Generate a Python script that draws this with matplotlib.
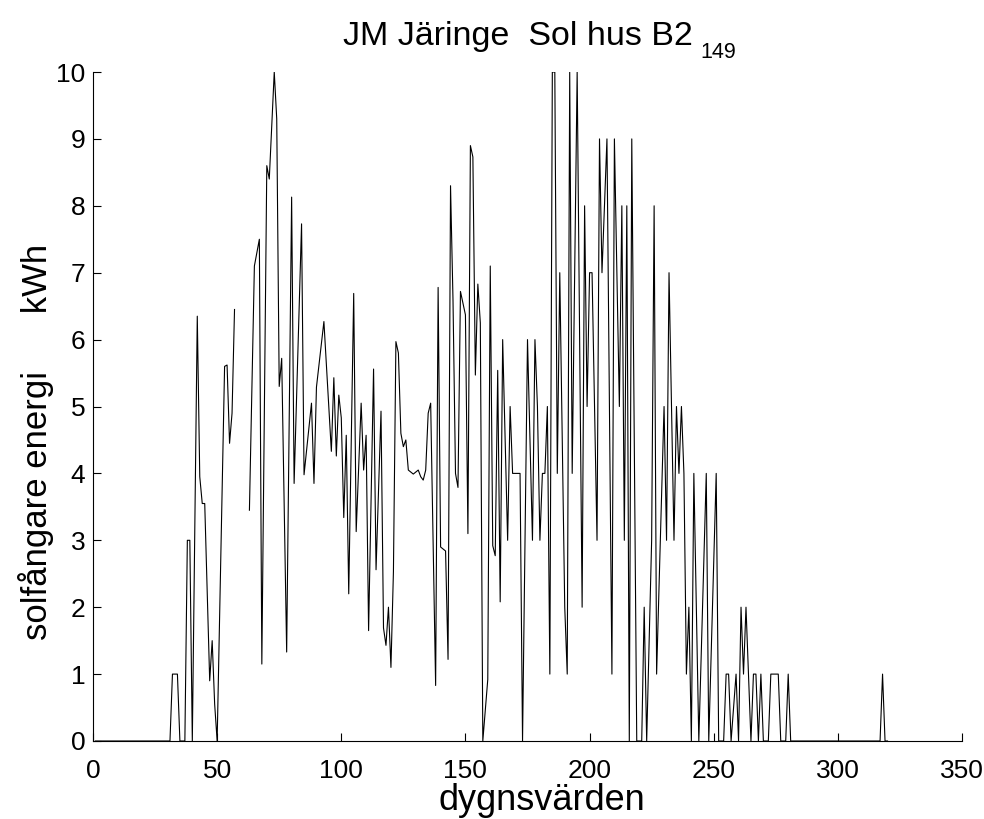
import numpy as np
import matplotlib
matplotlib.use("Agg")
import matplotlib.pyplot as plt

plt.rcParams['font.family'] = ['Liberation Sans', 'DejaVu Sans']

# day number (dygn) and solar collector energy (kWh); NaN = missing day
days = [1, 30, 31, 32, 33, 34, 35, 37, 38, 39, 40, 42, 43, 44, 45, 47, 48, 49, 50,
        53, 54, 55, 56, 57, 58,
        63, 65, 67, 68, 70, 71, 73, 74, 75, 76, 78, 80, 81, 84, 85, 88, 89, 90, 93,
        96, 97, 98, 99, 100, 101, 102, 103, 105, 106, 108, 109, 110, 111, 113, 114,
        116, 117, 118, 119, 120, 121, 122, 123, 124, 125, 126, 127, 129, 131, 132,
        133, 134, 135, 136, 138, 139, 140, 142, 143, 144, 145, 146, 147, 148, 150,
        151, 152, 153, 154, 155, 156, 157, 159, 160, 161, 162, 163, 164, 165, 167,
        168, 169, 172, 173, 174, 175, 177, 178, 179, 180, 181, 182, 183, 184, 185,
        186, 187, 188, 190, 191, 192, 193, 195, 197, 198, 199, 200, 201, 203, 204,
        205, 207, 209, 210, 212, 213, 214, 215, 216, 217, 219, 221, 222, 223, 225,
        226, 227, 230, 231, 232, 234, 235, 236, 237, 238, 239, 240, 241, 242, 244,
        247, 248, 251, 252, 254, 255, 256, 257, 259, 260, 261, 262, 263, 265, 266,
        267, 268, 269, 270, 272, 273, 274, 275, 276, 277, 279, 280, 281, 317, 318,
        319, 320]
kwh = [0, 0, 0, 1, 1, 1, 0, 0, 3, 3, 0, 6.35, 3.95, 3.55, 3.55, 0.9, 1.5, 0.55, 0,
       5.6, 5.62, 4.45, 4.9, 6.45, np.nan,
       3.45, 7.1, 7.5, 1.15, 8.6, 8.4, 10, 9.3, 5.3, 5.72, 1.33, 8.13, 3.85, 7.73, 3.98,
       5.05, 3.85, 5.29, 6.27,
       4.33, 5.43, 4.26, 5.17, 4.83, 3.34, 4.57, 2.2, 6.69, 3.13, 5.05, 4.05, 4.57,
       1.65, 5.56, 2.56,
       4.93, 1.69, 1.43, 2.0, 1.1, 2.53, 5.97, 5.8, 4.6, 4.4, 4.5, 4.05, 3.99, 4.05,
       3.95,
       3.9, 4.05, 4.9, 5.05, 0.83, 6.78, 2.9, 2.84, 1.22, 8.3, 6.58, 4.0, 3.79, 6.72,
       6.37,
       3.1, 8.9, 8.73, 5.47, 6.83, 6.25, 0, 0.92, 7.1, 2.92, 2.77, 5.54, 2.08, 6.0,
       3.0,
       5.0, 4.0, 4.0, 0, 3, 6, 3, 6, 5, 3, 4, 4, 5, 1, 10,
       10, 4, 7, 2, 1, 10, 4, 10, 2, 8, 5, 7, 7, 3, 9,
       7, 9, 1, 9, 5, 8, 3, 8, 0, 9, 0, 0, 2, 0, 3,
       8, 1, 5, 3, 7, 3, 5, 4, 5, 4, 1, 2, 0, 4, 0,
       4, 0, 4, 0, 0, 1, 1, 0, 1, 0, 2, 1, 2, 0, 1,
       1, 0, 1, 0, 0, 1, 1, 1, 1, 0, 0, 1, 0, 0, 1,
       0, 0]

xticks = [0, 50, 100, 150, 200, 250, 300, 350]
yticks = list(range(0, 11))
title_main = 'JM Järinge  Sol hus B2'
title_sub = '149'
xlabel = 'dygnsvärden'
ylabel = 'solfångare energi      kWh'

W, H = 984, 819
fig = plt.figure(figsize=(W / 100, H / 100), dpi=100)
ax = fig.add_axes([93 / W, 78 / H, 869 / W, 669 / H])

ax.plot(days, kwh, color='black', linewidth=0.8)

ax.set_xlim(0, 350)
ax.set_ylim(0, 10)
ax.set_xticks(xticks)
ax.set_yticks(yticks)
ax.tick_params(direction='in', length=6, width=0.8, labelsize=19)
ax.tick_params(axis='x', pad=13)
ax.tick_params(axis='y', pad=5.5)
for s in ['top', 'right']:
    ax.spines[s].set_visible(False)
for s in ['left', 'bottom']:
    ax.spines[s].set_linewidth(0.8)

fig.text(542 / W, 1 - 810 / H, xlabel, fontsize=26, ha='center', va='baseline')
ax.set_ylabel(ylabel, fontsize=25)
ax.yaxis.set_label_coords(-0.045, 0.447)

# title with subscript
fig.text(343 / W, 1 - 45 / H, title_main, fontsize=24.5, ha='left', va='baseline')
fig.text(700 / W, 1 - 58 / H, title_sub, fontsize=15.5, ha='left', va='baseline')

fig.savefig('out.png', dpi=100)
